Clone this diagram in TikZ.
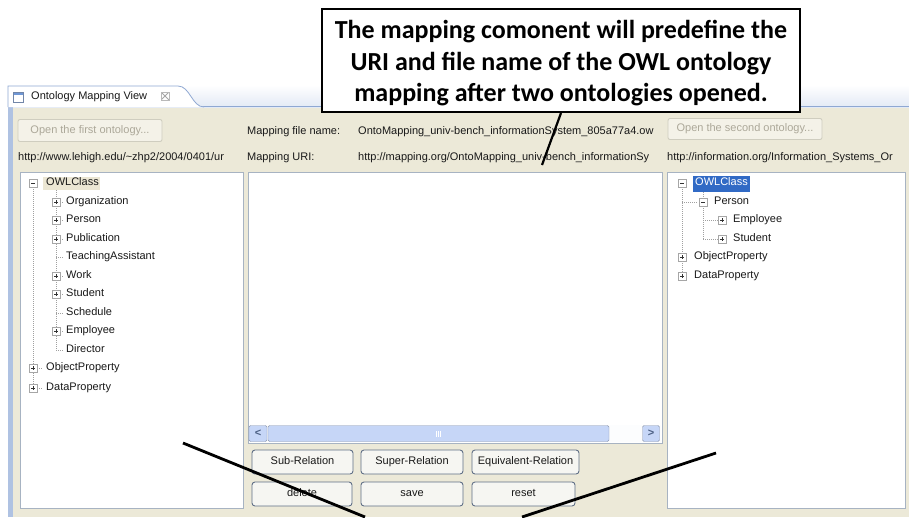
\documentclass[tikz,border=0pt]{standalone}
\usepackage{fontspec}
\setmainfont{Liberation Sans}
\newfontfamily\callfont{Carlito}
\definecolor{winbg}{HTML}{ECE9D8}
\definecolor{panelborder}{HTML}{A7B3C2}
\definecolor{btnborder}{HTML}{5F6F86}
\definecolor{btnfill}{HTML}{F6F6F2}
\definecolor{disborder}{HTML}{CFCDBF}
\definecolor{distext}{HTML}{ACA899}
\definecolor{selblue}{HTML}{316AC5}
\definecolor{selbeige}{HTML}{EBE6D3}
\definecolor{tabblue}{HTML}{8FA8D2}
\definecolor{framblue}{HTML}{AFC2E2}
\definecolor{scrollblue}{HTML}{C6D6F7}
\definecolor{arrowblue}{HTML}{4D6185}
\definecolor{treeline}{HTML}{A0A0A0}
\tikzset{
  gui/.style={font=\fontsize{11}{13}\selectfont, inner sep=0pt, anchor=west, text=black!90,
              text height=8pt, text depth=2.5pt},
  panel/.style={draw=panelborder, fill=white, line width=1pt, inner sep=0pt, anchor=north west},
  btn/.style={draw=btnborder, fill=btnfill, rounded corners=3pt, line width=0.9pt, inner sep=0pt,
              font=\fontsize{11}{13}\selectfont, text=black!90, text height=8pt, text depth=2.5pt},
  disbtn/.style={draw=disborder, fill=winbg!60!white, rounded corners=2pt, line width=0.9pt, inner sep=0pt,
              font=\fontsize{11}{13}\selectfont, text=distext, text height=8pt, text depth=2.5pt},
  expbox/.style={draw=gray!70, fill=white, minimum size=8pt, inner sep=0pt, line width=0.6pt},
  expplus/.style={expbox, path picture={
      \draw[black!80, line width=0.8pt] ([xshift=2pt]path picture bounding box.west) -- ([xshift=-2pt]path picture bounding box.east);
      \draw[black!80, line width=0.8pt] ([yshift=-2pt]path picture bounding box.north) -- ([yshift=2pt]path picture bounding box.south);}},
  expminus/.style={expbox, path picture={
      \draw[black!80, line width=0.8pt] ([xshift=2pt]path picture bounding box.west) -- ([xshift=-2pt]path picture bounding box.east);}},
  tline/.style={draw=treeline, line width=0.6pt, dash pattern=on 1pt off 1pt},
  calloutbox/.style={draw=black, line width=2pt, fill=white, inner sep=0pt},
  callouttext/.style={align=center, inner sep=0pt,
      font=\callfont\bfseries\fontsize{26}{31.5}\selectfont},
  blackline/.style={draw=black, line width=2.8pt},
}
\begin{document}
\begin{tikzpicture}[x=1pt,y=-1pt]
\useasboundingbox (0,0) rectangle (909,517);
% background
\fill[white] (0,0) rectangle (909,517);
\fill[winbg] (8,107) rectangle (909,517);
% header strip
\shade[top color=white, bottom color=framblue!35] (8,85) rectangle (909,107);
\draw[tabblue, line width=1.2pt] (8,106.5) -- (909,106.5);
\fill[framblue] (8,100) rectangle (13,517);
% tab
\path[fill=white, draw=tabblue, line width=0.8pt] (8,107) -- (8,86) -- (178,86) .. controls (190,86) and (192,107) .. (204,107);
\node[draw=tabblue!80!black, fill=white, minimum width=10pt, minimum height=10pt, inner sep=0pt, line width=0.8pt,
      path picture={\fill[selblue!70] (path picture bounding box.north west) rectangle ([yshift=-2.5pt]path picture bounding box.north east);}]
      (tabicon) at (18,97) {};
\node[gui] (tabtext) at (31,97) {Ontology Mapping View};
\node[draw=gray!55, minimum size=8pt, inner sep=0pt, line width=0.6pt,
      path picture={\draw[gray!70, line width=0.9pt] (path picture bounding box.north west) -- (path picture bounding box.south east)
                    (path picture bounding box.north east) -- (path picture bounding box.south west);}]
      (tabclose) at (165,96) {};

% top row
\node[disbtn, minimum width=144pt, minimum height=22pt] (open1) at (90,130.5) {Open the first ontology...};
\node[gui] (mfn) at (247,132) {Mapping file name:};
\node[gui] (mfnval) at (358,132) {OntoMapping\_univ-bench\_informationSystem\_805a77a4.ow};
\node[disbtn, minimum width=154pt, minimum height=21pt] (open2) at (745,129) {Open the second ontology...};

% second row
\begin{scope}
\clip (14,148) rectangle (245,168);
\node[gui] (uri1) at (18,158) {http://www.lehigh.edu/\textasciitilde zhp2/2004/0401/ur};
\end{scope}
\node[gui] (muri) at (247,158) {Mapping URI:};
\begin{scope}
\clip (356,148) rectangle (664,168);
\node[gui] (murival) at (358,158) {http://mapping.org/OntoMapping\_univ-bench\_informationSy};
\end{scope}
\node[gui] (uri2) at (667,158) {http://information.org/Information\_Systems\_Or};

% panels
\node[panel, minimum width=223pt, minimum height=336pt] (leftpanel) at (20,172) {};
\node[panel, minimum width=414pt, minimum height=271pt] (midpanel) at (248,172) {};
\node[panel, minimum width=238pt, minimum height=336pt] (rightpanel) at (667,172) {};

% left tree
\draw[tline] (33,187) -- (33,388);
\draw[tline] (56,190) -- (56,350);
\foreach \y in {257,313,350} {\draw[tline] (56,\y) -- (64,\y);}
\foreach \y in {202,220,239,276,294,331} {\draw[tline] (56,\y) -- (64,\y);}
\draw[tline] (33,368) -- (42,368);
\draw[tline] (33,388) -- (42,388);
\node[expminus] (lroot) at (33,183) {};
\fill[selbeige] (43,176.5) rectangle (100,190);
\node[gui] (lowl) at (46,183) {OWLClass};
\node[expplus] (le1) at (56,202) {};
\node[gui] (lorg) at (66,202) {Organization};
\node[expplus] (le2) at (56,220) {};
\node[gui] (lper) at (66,220) {Person};
\node[expplus] (le3) at (56,239) {};
\node[gui] (lpub) at (66,239) {Publication};
\node[gui] (lta) at (66,257) {TeachingAssistant};
\node[expplus] (le5) at (56,276) {};
\node[gui] (lwork) at (66,276) {Work};
\node[expplus] (le6) at (56,294) {};
\node[gui] (lstu) at (66,294) {Student};
\node[gui] (lsch) at (66,313) {Schedule};
\node[expplus] (le8) at (56,331) {};
\node[gui] (lemp) at (66,331) {Employee};
\node[gui] (ldir) at (66,350) {Director};
\node[expplus] (lop) at (33,368) {};
\node[gui] (lobj) at (46,368) {ObjectProperty};
\node[expplus] (ldp) at (33,388) {};
\node[gui] (ldat) at (46,388) {DataProperty};

% right tree
\draw[tline] (682,187) -- (682,276);
\draw[tline] (703,190) -- (703,202);
\draw[tline] (703,206) -- (703,239);
\draw[tline] (703,220) -- (718,220);
\draw[tline] (703,239) -- (718,239);
\draw[tline] (682,202) -- (698,202);
\node[expminus] (rroot) at (682,183) {};
\fill[selblue] (693,175.5) rectangle (750,191.5);
\node[gui, text=white] (rowl) at (695,183) {OWLClass};
\node[expminus] (rper) at (703,202) {};
\node[gui] (rpert) at (714,202) {Person};
\node[expplus] (remp) at (722,220) {};
\node[gui] (rempt) at (733,220) {Employee};
\node[expplus] (rstu) at (722,239) {};
\node[gui] (rstut) at (733,239) {Student};
\node[expplus] (rop) at (682,257) {};
\node[gui] (ropt) at (694,257) {ObjectProperty};
\node[expplus] (rdp) at (682,276) {};
\node[gui] (rdpt) at (694,276) {DataProperty};

% scrollbar
\fill[white!95!scrollblue] (249,425) rectangle (661,442);
\node[draw=scrollblue!70!black, fill=scrollblue, rounded corners=1.5pt, minimum width=18pt, minimum height=16pt, inner sep=0pt,
      text=arrowblue, font=\bfseries\fontsize{11}{13}\selectfont] (sleft) at (258,433.5) {<};
\node[draw=scrollblue!70!black, fill=scrollblue, rounded corners=1.5pt, minimum width=341pt, minimum height=16pt, inner sep=0pt] (sthumb) at (438.5,433.5) {};
\foreach \dx in {-2,0,2} {\draw[white, line width=0.6pt] ([xshift=\dx pt, yshift=-3pt]sthumb.center) -- ([xshift=\dx pt, yshift=3pt]sthumb.center);}
\node[draw=scrollblue!70!black, fill=scrollblue, rounded corners=1.5pt, minimum width=17pt, minimum height=16pt, inner sep=0pt,
      text=arrowblue, font=\bfseries\fontsize{11}{13}\selectfont] (sright) at (651,433.5) {>};

% buttons
\node[btn, minimum width=101pt, minimum height=24pt] (bsub) at (302.5,462) {Sub-Relation};
\node[btn, minimum width=102pt, minimum height=24pt] (bsup) at (412,462) {Super-Relation};
\node[btn, minimum width=107pt, minimum height=24pt] (beq) at (525.5,462) {Equivalent-Relation};
\node[btn, minimum width=100pt, minimum height=24pt] (bdel) at (302,494) {delete};
\node[btn, minimum width=102pt, minimum height=24pt] (bsave) at (412,494) {save};
\node[btn, minimum width=103pt, minimum height=24pt] (breset) at (523.5,494) {reset};

% callout
\node[calloutbox, minimum width=478pt, minimum height=103pt] (note) at (561,60.5) {};
\node[callouttext] (notetext) at (561,63.5)
  {The mapping comonent will predefine the\\URI and file name of the OWL ontology\\mapping after two ontologies opened.};
\coordinate (ptrend) at (542,165);
\draw[line width=2.2pt] (note.south) -- (ptrend);

% bottom lines
\coordinate (la) at (183,443);
\coordinate (laend) at (365,517);
\coordinate (lb) at (716,453);
\coordinate (lbend) at (522,517);
\draw[blackline] (la) -- (laend);
\draw[blackline] (lb) -- (lbend);
\end{tikzpicture}
\end{document}
